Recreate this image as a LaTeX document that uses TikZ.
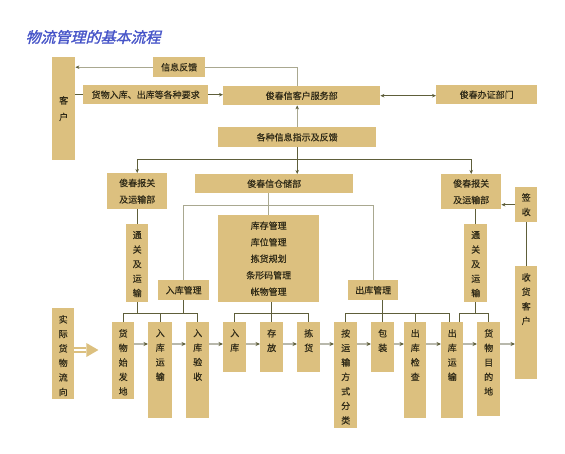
\documentclass[tikz,border=0pt]{standalone}
\usepackage{fontspec}
\setmainfont{Noto Sans CJK SC}[FakeBold=0.5]
\newfontfamily\titlefont[FakeSlant=0.25,FakeBold=1.5]{Noto Sans CJK SC}
\usetikzlibrary{arrows.meta}

\definecolor{boxc}{HTML}{DCC07F}
\definecolor{txtc}{HTML}{302B18}
\definecolor{dkc}{HTML}{5E5E3A}
\definecolor{ltc}{HTML}{A9A890}
\definecolor{flowc}{HTML}{B8B8AC}
\definecolor{titc}{HTML}{4654C8}

\tikzset{
  box/.style={fill=boxc, text=txtc, inner sep=0pt, anchor=north west, align=center,
    font=\fontsize{9}{16.5}\selectfont},
  toplab/.style={anchor=north, align=center, inner sep=0pt, yshift=-7pt, text=txtc,
    font=\fontsize{9}{14.5}\selectfont},
  dk/.style={draw=dkc, line width=0.8pt},
  lt/.style={draw=ltc, line width=0.8pt},
  arrtip/.style={-{Stealth[length=4pt,width=3.5pt,color=dkc]}},
  arrboth/.style={{Stealth[length=4pt,width=3.5pt,color=dkc]}-{Stealth[length=4pt,width=3.5pt,color=dkc]}},
  flow/.style={draw=flowc, line width=1.3pt, -{Stealth[length=4.5pt,width=4pt,color=dkc]}},
}

\begin{document}
\begin{tikzpicture}[x=1pt,y=-1pt]
\useasboundingbox (0,0) rectangle (565,453);

% title
\node[anchor=west, text=titc, font=\titlefont\fontsize{15}{15}\selectfont] (title) at (22,37) {物流管理的基本流程};

% top part
\node[box, minimum width=23pt, minimum height=103pt] (kehu) at (52,57) {客\\户};
\node[box, minimum width=52pt, minimum height=20pt] (xxfk) at (153,57) {信息反馈};
\node[box, minimum width=125pt, minimum height=19pt] (yaoqiu) at (83,85) {货物入库、出库等各种要求};
\node[box, minimum width=157pt, minimum height=19pt] (kffw) at (223,86) {俊春信客户服务部};
\node[box, minimum width=101pt, minimum height=19pt] (bzbm) at (436,85) {俊春办证部门};
\node[box, minimum width=158pt, minimum height=20pt] (xxzs) at (218,127) {各种信息指示及反馈};

% departments
\node[box, minimum width=60pt, minimum height=36pt] (bgL) at (107,173) {俊春报关\\及运输部};
\node[box, minimum width=158pt, minimum height=19pt] (ccb) at (195,174) {俊春信仓储部};
\node[box, minimum width=60pt, minimum height=35pt] (bgR) at (441,174) {俊春报关\\及运输部};
\node[box, minimum width=22pt, minimum height=35pt, font=\fontsize{9}{14.5}\selectfont] (qs) at (515,187) {签\\收};
\node[box, minimum width=22pt, minimum height=113pt, label={[toplab]north:收\\货\\客\\户}] (shkh) at (515,266) {};
\node[box, minimum width=22pt, minimum height=78pt, label={[toplab]north:通\\关\\及\\运\\输}] (tgL) at (126,224) {};
\node[box, minimum width=23pt, minimum height=78pt, label={[toplab]north:通\\关\\及\\运\\输}] (tgR) at (464,224) {};
\node[box, minimum width=101pt, minimum height=87pt] (kcgl) at (218,215) {库存管理\\库位管理\\拣货规划\\条形码管理\\帐物管理};
\node[box, minimum width=51pt, minimum height=20pt] (rkgl) at (158,280) {入库管理};
\node[box, minimum width=50pt, minimum height=20pt] (ckgl) at (348,280) {出库管理};

% goods flow
\node[box, minimum width=22pt, minimum height=91pt, label={[toplab]north:实\\际\\货\\物\\流\\向}] (sjhw) at (52,308) {};
\node[box, minimum width=22pt, minimum height=77pt, label={[toplab]north:货\\物\\始\\发\\地}] (sfd) at (112,322) {};
\node[box, minimum width=24pt, minimum height=96pt, label={[toplab]north:入\\库\\运\\输}] (rkys) at (148,322) {};
\node[box, minimum width=23pt, minimum height=96pt, label={[toplab]north:入\\库\\验\\收}] (rkysh) at (186,322) {};
\node[box, minimum width=23pt, minimum height=50pt, label={[toplab]north:入\\库}] (ruku) at (223,322) {};
\node[box, minimum width=23pt, minimum height=50pt, label={[toplab]north:存\\放}] (cunf) at (260,322) {};
\node[box, minimum width=23pt, minimum height=50pt, label={[toplab]north:拣\\货}] (jianh) at (297,322) {};
\node[box, minimum width=23pt, minimum height=106pt, label={[toplab]north:按\\运\\输\\方\\式\\分\\类}] (fenl) at (334,322) {};
\node[box, minimum width=23pt, minimum height=50pt, label={[toplab]north:包\\装}] (baoz) at (371,322) {};
\node[box, minimum width=22pt, minimum height=96pt, label={[toplab]north:出\\库\\检\\查}] (ckjc) at (404,322) {};
\node[box, minimum width=22pt, minimum height=96pt, label={[toplab]north:出\\库\\运\\输}] (ckys) at (441,322) {};
\node[box, minimum width=23pt, minimum height=94pt, label={[toplab]north:货\\物\\目\\的\\地}] (mdd) at (477,322) {};

% top connectors
\draw[lt, arrtip] (xxfk.west) -- (xxfk.west -| kehu.east);
\draw[lt] (xxzs.north |- kffw.north) |- (xxfk.east);
\draw[dk] (yaoqiu.west) -- (yaoqiu.west -| kehu.east);
\draw[dk, arrtip] (yaoqiu.east) -- (yaoqiu.east -| kffw.west);
\draw[dk, arrboth] (kffw.east) -- (kffw.east -| bzbm.west);
\draw[lt, arrtip] (xxzs.north) -- (xxzs.north |- kffw.south);

% instruction bus
\coordinate (busA) at (0,159);
\draw[dk, arrtip] (xxzs.south) -- (xxzs.south |- ccb.north);
\draw[dk] (bgL.north |- busA) -- (bgR.north |- busA);
\draw[dk, arrtip] (bgL.north |- busA) -- (bgL.north);
\draw[dk, arrtip] (bgR.north |- busA) -- (bgR.north);
\draw[dk, arrtip] (qs.west) -- (qs.west -| bgR.east);
\draw[dk] (shkh.north) -- (shkh.north |- qs.south);
\draw[dk] (bgL.south) -- (tgL.north);
\draw[dk] (tgR.north |- bgR.south) -- (tgR.north);

% storage
\coordinate (busB) at (0,205);
\draw[lt] (kcgl.north |- ccb.south) -- (kcgl.north);
\draw[lt] (rkgl.north) -- (rkgl.north |- busB) -- (ckgl.north |- busB) -- (ckgl.north);

% lower buses
\coordinate (busC) at (0,313);
\coordinate (ckysL) at ([xshift=-3pt]ckys.north);
\coordinate (ckysR) at ([xshift=7pt]ckys.north);
\draw[dk] (tgL.south) -- (tgL.south |- busC);
\draw[dk] (sfd.north) |- (busC -| rkys.north) -- (rkys.north);
\draw[dk] (rkgl.south) -- (rkgl.south |- busC);
\draw[dk] (rkys.north) |- (busC -| rkysh.north) -- (rkysh.north);
\draw[dk] (cunf.north |- kcgl.south) -- (cunf.north);
\draw[dk] (ruku.north) |- (busC -| jianh.north) -- (jianh.north);
\draw[dk] (baoz.north |- ckgl.south) -- (baoz.north);
\draw[dk] (ckjc.north |- busC) -- (ckjc.north);
\draw[dk] (fenl.north) |- (busC -| ckysL) -- (ckysL);
\draw[dk] (tgR.south) -- (tgR.south |- busC);
\draw[dk] (ckysR) |- (busC -| mdd.north) -- (mdd.north);

% flow arrows
\coordinate (flowy) at (0,344);
\foreach \a/\b in {sfd/rkys, rkys/rkysh, rkysh/ruku, ruku/cunf, cunf/jianh, jianh/fenl,
                   fenl/baoz, baoz/ckjc, ckjc/ckys, ckys/mdd, mdd/shkh}
  \draw[flow] (\a.east |- flowy) -- (\b.west |- flowy);

% big arrow
\coordinate (fatY) at (0,350);
\coordinate (fatA) at (sjhw.east |- fatY);
\draw[boxc, line width=1.5pt, double=white, double distance=2.5pt] (fatA) -- ++(12,0) coordinate (fatB);
\fill[boxc] (fatB) ++(0,-7) -- ++(12,7) -- ++(-12,7) -- cycle;

\end{tikzpicture}
\end{document}
